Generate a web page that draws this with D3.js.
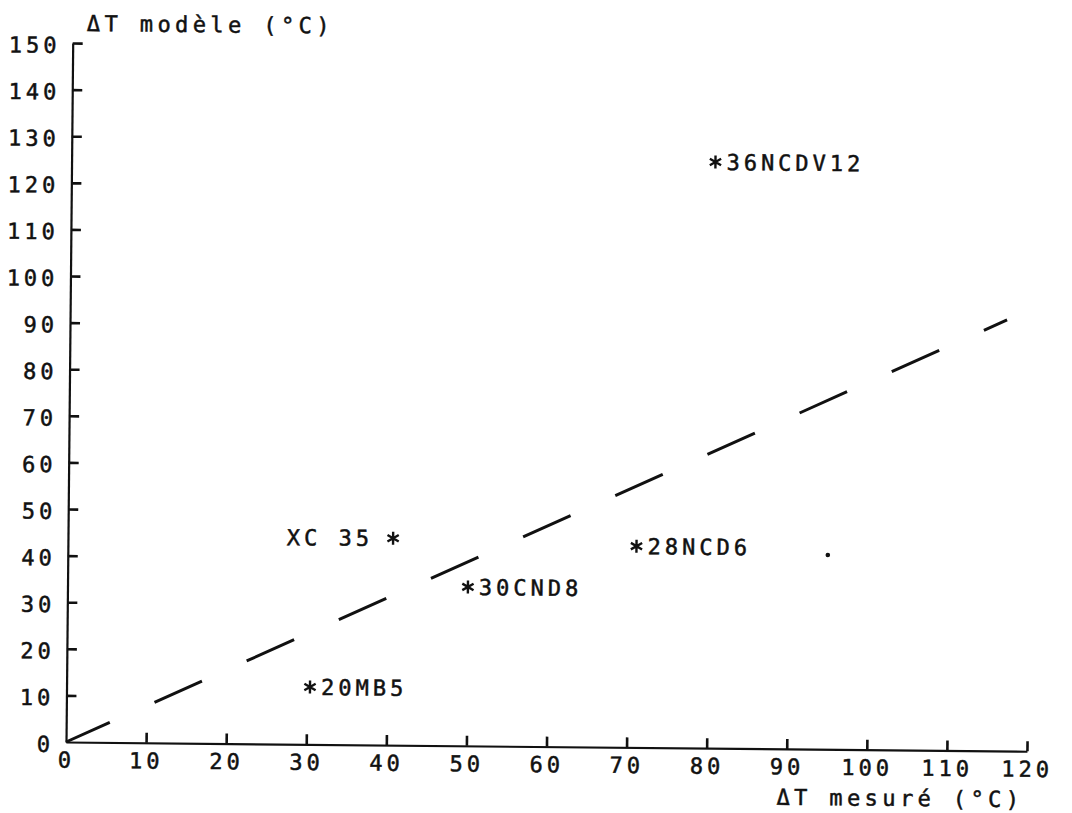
<!DOCTYPE html>
<html>
<head>
<meta charset="utf-8">
<script src="https://cdn.jsdelivr.net/npm/d3@7"></script>
<style>
  body { margin: 0; background: #fff; }
  svg text { font-family: "DejaVu Sans Mono", monospace; font-size: 22px; fill: #111; stroke: #111; stroke-width: 0.5px; letter-spacing: 4px; }
  .axis path { stroke: #111; stroke-width: 2.2; }
</style>
</head>
<body>
<script>
// axis ticks
var xTicks = [0, 10, 20, 30, 40, 50, 60, 70, 80, 90, 100, 110, 120];
var yTicks = [0, 10, 20, 30, 40, 50, 60, 70, 80, 90, 100, 110, 120, 130, 140, 150];

// measured vs model points
var pointNames = ["36NCDV12", "XC 35", "30CND8", "20MB5", "28NCD6", ""];
var pointX = [80.4, 40.6, 50.0, 30.4, 71.0, 94.9];
var pointY = [125.8, 44.4, 34.1, 12.3, 43.2, 41.7];
var labelSide = ["right", "left", "right", "right", "right", "none"];
var markers = ["star", "star", "star", "star", "star", "dot"];

// dashed reference line
var lineX = [0, 117];
var lineY = [0, 92.5];

var width = 1072, height = 813;

var svg = d3.select("body").append("svg")
    .attr("width", width)
    .attr("height", height);

// the scanned sheet sits a little crooked
var g = svg.append("g").attr("transform", "rotate(0.55, 66, 742)");

var x = d3.scaleLinear().domain([0, 120]).range([66, 1027]);
var y = d3.scaleLinear().domain([0, 150]).range([742, 43]);

var xAxis = d3.axisBottom(x)
    .tickValues(xTicks)
    .tickSizeInner(-10)
    .tickSizeOuter(0)
    .tickPadding(10)
    .tickFormat(d3.format("d"));

var yAxis = d3.axisLeft(y)
    .tickValues(yTicks)
    .tickSizeInner(-10)
    .tickSizeOuter(0)
    .tickPadding(12)
    .tickFormat(d3.format("d"));

var gx = g.append("g")
    .attr("class", "axis")
    .attr("transform", "translate(0," + y(0) + ")")
    .call(xAxis);

var gy = g.append("g")
    .attr("class", "axis")
    .attr("transform", "translate(" + x(0) + ",0)")
    .call(yAxis);
gy.selectAll("text").attr("dy", "0.43em");

svg.selectAll(".axis").attr("font-family", null).attr("font-size", null);
svg.selectAll(".axis text").attr("fill", null);
// inward tick marks, heavier like the pen plot
svg.selectAll(".axis .tick line")
    .attr("stroke", "#111")
    .attr("stroke-width", 2.6);
svg.selectAll(".axis .tick")
    .filter(function(d) { return d == 0; })
    .select("line").remove();

// axis titles
g.append("text")
    .attr("x", 80)
    .attr("y", 23)
    .attr("dy", "0.36em")
    .style("letter-spacing", "4.4px")
    .text("\u0394T mod\u00e8le (\u00b0C)");

g.append("text")
    .attr("x", 1024)
    .attr("y", 790)
    .attr("dy", "0.36em")
    .attr("text-anchor", "end")
    .style("letter-spacing", "4.4px")
    .text("\u0394T mesur\u00e9 (\u00b0C)");

// dashed line
var lineData = lineX.map(function(d, i) { return [d, lineY[i]]; });
var line = d3.line()
    .x(function(d) { return x(d[0]); })
    .y(function(d) { return y(d[1]); });

g.append("path")
    .datum(lineData)
    .attr("d", line)
    .attr("fill", "none")
    .attr("stroke", "#111")
    .attr("stroke-width", 3)
    .attr("stroke-dasharray", "52,49")
    .attr("stroke-dashoffset", 4);

// points
var points = pointX.map(function(d, i) {
    return { x: d, y: pointY[i], name: pointNames[i], side: labelSide[i], marker: markers[i] };
});

function starPath(r) {
    var p = "";
    [90, 30, 150].forEach(function(a) {
        var t = a * Math.PI / 180;
        var dx = r * Math.cos(t), dy = r * Math.sin(t);
        p += "M" + (-dx) + "," + (-dy) + "L" + dx + "," + dy;
    });
    return p;
}

var pt = g.selectAll(".pt")
    .data(points)
    .enter().append("g")
    .attr("class", "pt")
    .attr("transform", function(d) { return "translate(" + x(d.x) + "," + y(d.y) + ")"; });

pt.filter(function(d) { return d.marker == "star"; })
    .append("path")
    .attr("d", starPath(6.5))
    .attr("stroke", "#111")
    .attr("stroke-width", 2.4)
    .attr("fill", "none");

pt.filter(function(d) { return d.marker == "dot"; })
    .append("circle")
    .attr("r", 2.3)
    .attr("fill", "#111");

pt.filter(function(d) { return d.side != "none"; })
    .append("text")
    .attr("x", function(d) { return d.side == "left" ? -20 : 11; })
    .attr("dy", "0.36em")
    .attr("text-anchor", function(d) { return d.side == "left" ? "end" : "start"; })
    .text(function(d) { return d.name; });
</script>
</body>
</html>
